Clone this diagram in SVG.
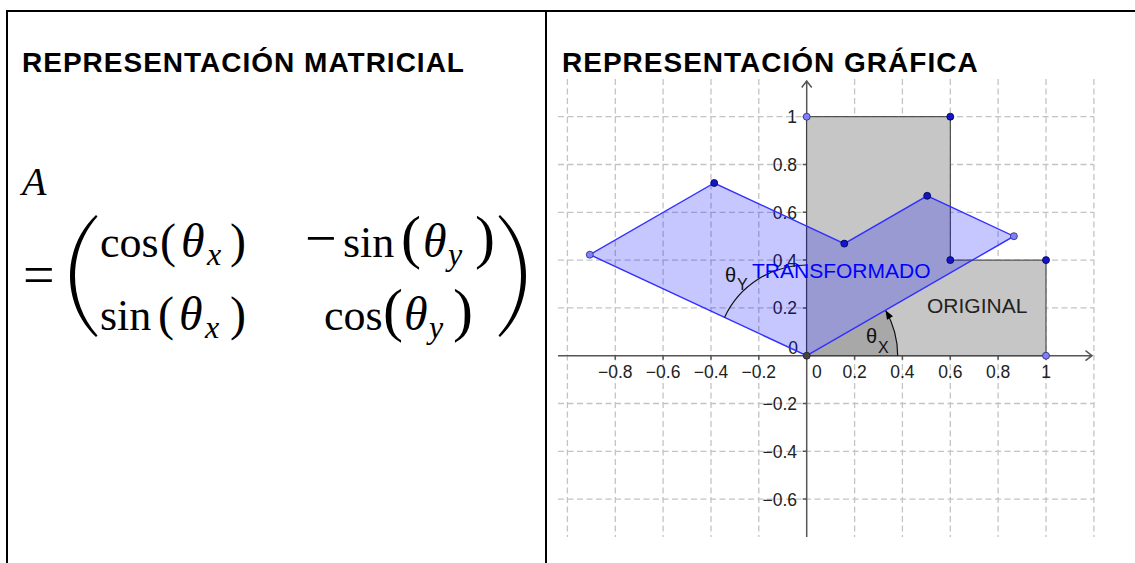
<svg xmlns="http://www.w3.org/2000/svg" width="1135" height="563" viewBox="0 0 1135 563">
<style>
.title{font-family:"Liberation Sans",Arial,sans-serif;font-weight:bold;font-size:28px;letter-spacing:1px;fill:#000}
.math{font-family:"Liberation Serif","Times New Roman",serif;font-size:44px;fill:#000}
.it{font-style:italic;font-size:48px}
.sub{font-style:italic;font-size:32px}
.par{font-size:48px}
.tall{font-size:60px}
.grid line{stroke:#c4c4c4;stroke-width:1.3;stroke-dasharray:6 3.5}
.axis{stroke:#555;stroke-width:1.5;fill:none}
.tick{font-family:"Liberation Sans",Arial,sans-serif;font-size:17.5px;fill:#222}
.lbl{font-family:"Liberation Sans",Arial,sans-serif;font-size:21px}
.ptd{fill:#1414c8;stroke:#00004a;stroke-width:0.8}
.ptl{fill:#8080ff;stroke:#2a2a66;stroke-width:0.8}
</style>
<defs>
<path id="bigparen" d="M96 215C78 232 70 255 70 276C70 297 78 320 96 337L97.5 335.5C82 318 75 297 75 276C75 255 82 234 97.5 216.5Z" fill="#000"/>
</defs>
<rect x="0" y="0" width="1135" height="563" fill="#fff"/>
<g id="table">
<line x1="6" y1="11" x2="1135" y2="11" stroke="#000" stroke-width="2"/>
<line x1="7" y1="10" x2="7" y2="563" stroke="#000" stroke-width="2"/>
<line x1="546" y1="10" x2="546" y2="563" stroke="#000" stroke-width="2"/>
</g>
<text class="title" x="22" y="72">REPRESENTACIÓN MATRICIAL</text>
<text class="title" x="562" y="72">REPRESENTACIÓN GRÁFICA</text>
<g id="formula">
<text class="math" x="22" y="195" style="font-size:40px;font-style:italic">A</text>
<text class="math" x="23" y="294" style="font-size:56px">=</text>
<use href="#bigparen"/>
<use href="#bigparen" transform="translate(596,0) scale(-1,1)"/>
<text class="math" y="257"><tspan x="100">cos</tspan><tspan x="160" class="par">(</tspan><tspan x="181" class="it">θ</tspan><tspan x="207" dy="8" class="sub">x</tspan><tspan x="230" dy="-8" class="par">)</tspan></text>
<text class="math" y="330"><tspan x="100">sin</tspan><tspan x="158" class="par">(</tspan><tspan x="179" class="it">θ</tspan><tspan x="205" dy="8" class="sub">x</tspan><tspan x="230" dy="-8" class="par">)</tspan></text>
<text class="math" y="257"><tspan x="305" style="font-size:56px">−</tspan><tspan x="343">sin</tspan><tspan x="401" class="tall">(</tspan><tspan x="423" class="it">θ</tspan><tspan x="448" dy="8" class="sub">y</tspan><tspan x="475" dy="-8" class="tall">)</tspan></text>
<text class="math" y="330"><tspan x="324">cos</tspan><tspan x="383" class="tall">(</tspan><tspan x="404" class="it">θ</tspan><tspan x="429" dy="8" class="sub">y</tspan><tspan x="453" dy="-8" class="tall">)</tspan></text>
</g>
<g id="graph">
<g class="grid">
<line x1="567.4" y1="79" x2="567.4" y2="537"/>
<line x1="615.3" y1="79" x2="615.3" y2="537"/>
<line x1="663.1" y1="79" x2="663.1" y2="537"/>
<line x1="711" y1="79" x2="711" y2="537"/>
<line x1="758.8" y1="79" x2="758.8" y2="537"/>
<line x1="854.6" y1="79" x2="854.6" y2="537"/>
<line x1="902.4" y1="79" x2="902.4" y2="537"/>
<line x1="950.3" y1="79" x2="950.3" y2="537"/>
<line x1="998.1" y1="79" x2="998.1" y2="537"/>
<line x1="1046" y1="79" x2="1046" y2="537"/>
<line x1="1093.9" y1="79" x2="1093.9" y2="537"/>
<line x1="558" y1="116.7" x2="1094" y2="116.7"/>
<line x1="558" y1="164.5" x2="1094" y2="164.5"/>
<line x1="558" y1="212.3" x2="1094" y2="212.3"/>
<line x1="558" y1="260.1" x2="1094" y2="260.1"/>
<line x1="558" y1="307.9" x2="1094" y2="307.9"/>
<line x1="558" y1="403.5" x2="1094" y2="403.5"/>
<line x1="558" y1="451.3" x2="1094" y2="451.3"/>
<line x1="558" y1="499.1" x2="1094" y2="499.1"/>
</g>
<g id="axes">
<path class="axis" d="M558 355.7H1092M1085.5 350.7L1092 355.7L1085.5 360.7"/>
<path class="axis" d="M806.7 537V81M801.7 87.5L806.7 81L811.7 87.5"/>
<path class="axis" d="M615.3 355.7v4M663.1 355.7v4M711 355.7v4M758.8 355.7v4M854.6 355.7v4M902.4 355.7v4M950.3 355.7v4M998.1 355.7v4M1046 355.7v4M806.7 116.7h-4M806.7 164.5h-4M806.7 212.3h-4M806.7 260.1h-4M806.7 307.9h-4M806.7 403.5h-4M806.7 451.3h-4M806.7 499.1h-4"/>
</g>
<g id="ticklabels" class="tick">
<text x="615.3" y="378" text-anchor="middle">−0.8</text>
<text x="663.1" y="378" text-anchor="middle">−0.6</text>
<text x="711" y="378" text-anchor="middle">−0.4</text>
<text x="758.8" y="378" text-anchor="middle">−0.2</text>
<text x="812" y="378">0</text>
<text x="854.6" y="378" text-anchor="middle">0.2</text>
<text x="902.4" y="378" text-anchor="middle">0.4</text>
<text x="950.3" y="378" text-anchor="middle">0.6</text>
<text x="998.1" y="378" text-anchor="middle">0.8</text>
<text x="1046" y="378" text-anchor="middle">1</text>
<text x="797" y="123" text-anchor="end">1</text>
<text x="797" y="171" text-anchor="end">0.8</text>
<text x="797" y="218.8" text-anchor="end">0.6</text>
<text x="797" y="266.6" text-anchor="end">0.4</text>
<text x="797" y="314.4" text-anchor="end">0.2</text>
<text x="798" y="354" text-anchor="end">0</text>
<text x="797" y="410" text-anchor="end">−0.2</text>
<text x="797" y="457.8" text-anchor="end">−0.4</text>
<text x="797" y="505.6" text-anchor="end">−0.6</text>
</g>
<g id="original">
<polygon points="806.7,355.7 1046,355.7 1046,260.1 950.3,260.1 950.3,116.7 806.7,116.7" fill="#c6c6c6" stroke="#333" stroke-width="1"/>
</g>
<g id="angle-x">
<path d="M806.7 355.7H897.7A91 91 0 0 0 885.5 310.2Z" fill="#000" fill-opacity="0.15"/>
<path d="M897.7 355.7A91 91 0 0 0 885.5 310.2" fill="none" stroke="#111" stroke-width="1.2"/>
<polygon points="885.5,310.2 893,316.3 887,319.7" fill="#000"/>
</g>
<g id="transformado">
<polygon points="806.7,355.7 1013.9,236.2 927.2,195.8 844.3,243.6 714.2,183 589.8,254.7" fill="#0000ff" fill-opacity="0.22" stroke="#3030ff" stroke-width="1.4"/>
</g>
<g id="angle-y">
<path d="M806.7 265A90.7 90.7 0 0 0 724.5 317.4" fill="none" stroke="#111" stroke-width="1.2"/>
</g>
<g id="labels">
<text class="lbl" x="752" y="278" fill="#0000ff">TRANSFORMADO</text>
<text class="lbl" x="927" y="313" fill="#222">ORIGINAL</text>
<text x="866" y="343" font-family="Liberation Sans,Arial,sans-serif" font-size="20" fill="#111">θ<tspan x="878" y="353" font-size="16">X</tspan></text>
<text x="725" y="282" font-family="Liberation Sans,Arial,sans-serif" font-size="20" fill="#111">θ<tspan x="737" y="290" font-size="16">Y</tspan></text>
</g>
<g id="points">
<circle class="ptd" cx="950.3" cy="116.7" r="3.5"/>
<circle class="ptd" cx="1046" cy="260.1" r="3.5"/>
<circle class="ptd" cx="950.3" cy="260.1" r="3.5"/>
<circle class="ptd" cx="927.2" cy="195.8" r="3.5"/>
<circle class="ptd" cx="844.3" cy="243.6" r="3.5"/>
<circle class="ptd" cx="714.2" cy="183" r="3.5"/>
<circle class="ptl" cx="806.7" cy="116.7" r="3.5"/>
<circle class="ptl" cx="1046" cy="355.7" r="3.5"/>
<circle class="ptl" cx="589.8" cy="254.7" r="3.5"/>
<circle class="ptl" cx="1013.9" cy="236.2" r="3.5"/>
<circle cx="806.7" cy="355.7" r="3.5" fill="#444" stroke="#222" stroke-width="0.8"/>
</g>
</g>
</svg>
